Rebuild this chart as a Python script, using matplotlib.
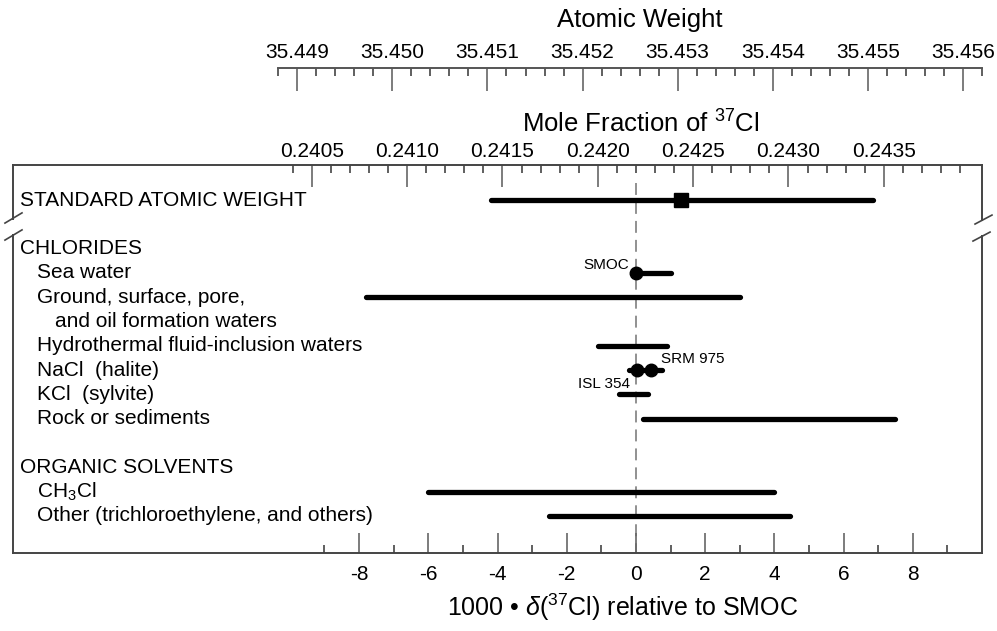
import matplotlib.pyplot as plt
import matplotlib.transforms as mtransforms
import numpy as np

plt.rcParams['font.family'] = ['Liberation Sans', 'DejaVu Sans']
plt.rcParams['mathtext.fontset'] = 'custom'
plt.rcParams['mathtext.rm'] = 'Liberation Sans'
plt.rcParams['mathtext.it'] = 'Liberation Sans:italic'

# row labels (row index, indent level)
row_labels = ['STANDARD ATOMIC WEIGHT', 'CHLORIDES', 'Sea water', 'Ground, surface, pore,',
              'and oil formation waters', 'Hydrothermal fluid-inclusion waters', 'NaCl  (halite)',
              'KCl  (sylvite)', 'Rock or sediments', 'ORGANIC SOLVENTS', 'CH$_3$Cl',
              'Other (trichloroethylene, and others)']
label_rows = [0, 2, 3, 4, 5, 6, 7, 8, 9, 11, 12, 13]
label_indent = [0, 0, 1, 1, 2, 1, 1, 1, 1, 0, 1, 1]

# ranges in 1000*delta(37Cl) relative to SMOC
bar_rows = [0, 3, 4, 6, 7, 8, 9, 12, 13]
bar_lo = [-4.2, 0.0, -7.8, -1.1, -0.2, -0.5, 0.2, -6.0, -2.5]
bar_hi = [6.85, 1.0, 3.0, 0.9, 0.75, 0.35, 7.5, 4.0, 4.45]

# reference materials
std_weight_delta = 1.3
ref_names = ['SMOC', 'ISL 354', 'SRM 975']
ref_delta = [0.0, 0.02, 0.43]
ref_rows = [3, 7, 7]

delta_ticks = [-8, -6, -4, -2, 0, 2, 4, 6, 8]
delta_minor = [-9, -7, -5, -3, -1, 1, 3, 5, 7, 9]
mf_ticks = [0.2405, 0.2410, 0.2415, 0.2420, 0.2425, 0.2430, 0.2435]
aw_ticks = [35.449, 35.450, 35.451, 35.452, 35.453, 35.454, 35.455, 35.456]

MF0 = 0.24220
MF_PER_DELTA = 0.0001815
M35 = 34.96885
M37 = 36.96590


def d2mf(d):
    return MF0 + MF_PER_DELTA * np.asarray(d)


def mf2d(x):
    return (np.asarray(x) - MF0) / MF_PER_DELTA


def d2aw(d):
    return M35 + (M37 - M35) * d2mf(d)


W, H = 997, 631
fig = plt.figure(figsize=(W / 100, H / 100), dpi=100)
L, R, T, B = 13, 982, 165, 553
ax = fig.add_axes([L / W, 1 - B / H, (R - L) / W, (B - T) / H])
XMIN, XMAX = -18.0, 10.0
row0_px, row_h = 200, 24.3
ax.set_xlim(XMIN, XMAX)
ax.set_ylim((B - row0_px) / row_h, (T - row0_px) / row_h)

frame_c = '#444444'
for s in ['left', 'right']:
    ax.spines[s].set_visible(False)
for s in ['top', 'bottom']:
    ax.spines[s].set_color(frame_c)
    ax.spines[s].set_linewidth(1.4)
ax.set_yticks([])

# bottom delta axis
ax.set_xticks(delta_ticks)
ax.set_xticks(delta_minor, minor=True)
ax.set_xticklabels([str(t) for t in delta_ticks])
ax.tick_params(axis='x', which='major', direction='in', length=14.5, width=1.2,
               color='#666666', labelsize=15, pad=9)
ax.tick_params(axis='x', which='minor', direction='in', length=6, width=1.2, color='#444444')

# top mole-fraction axis
sec = ax.secondary_xaxis('top', functions=(d2mf, mf2d))
sec.set_xticks(mf_ticks)
sec.set_xticklabels(['%.4f' % t for t in mf_ticks])
sec.set_xticks(np.round(np.arange(0.2404, 0.24395, 0.0001), 4), minor=True)
sec.tick_params(which='major', direction='in', length=16, width=1.2, color='#666666',
                labelsize=15, pad=3)
sec.tick_params(which='minor', direction='in', length=6, width=1.2, color='#444444')
sec.spines['top'].set_visible(False)

# atomic weight axis
ax_aw = fig.add_axes([L / W, 1 - 100 / H, (R - L) / W, 32 / H])
ax_aw.set_xlim(d2aw(XMIN), d2aw(XMAX))
ax_aw.patch.set_visible(False)
for s in ['left', 'right', 'bottom']:
    ax_aw.spines[s].set_visible(False)
ax_aw.spines['top'].set_bounds(35.4488, 35.4562)
ax_aw.spines['top'].set_color('#555555')
ax_aw.spines['top'].set_linewidth(1.4)
ax_aw.set_yticks([])
ax_aw.xaxis.set_ticks_position('top')
ax_aw.xaxis.set_label_position('top')
ax_aw.set_xticks(aw_ticks)
ax_aw.set_xticklabels(['%.3f' % t for t in aw_ticks])
ax_aw.set_xticks(np.round(np.arange(35.4488, 35.45625, 0.0002), 4), minor=True)
ax_aw.tick_params(which='major', direction='in', length=16.5, width=1.2, color='#666666',
                  labelsize=15, pad=4)
ax_aw.tick_params(which='minor', direction='in', length=6, width=1.2, color='#444444')

# frame sides with break marks
bt = mtransforms.blended_transform_factory(ax.transAxes, ax.transData)
ytop, ybot = ax.get_ylim()[1], ax.get_ylim()[0]
ax.plot([0, 0], [ytop, 0.78], color=frame_c, lw=1.4, transform=bt, clip_on=False)
ax.plot([0, 0], [1.44, ybot], color=frame_c, lw=1.4, transform=bt, clip_on=False)
ax.plot([-0.0083, 0.0093], [0.95, 0.53], color=frame_c, lw=1.2, transform=bt, clip_on=False)
ax.plot([-0.0083, 0.0093], [1.65, 1.23], color=frame_c, lw=1.2, transform=bt, clip_on=False)
ax.plot([1, 1], [ytop, 0.82], color=frame_c, lw=1.4, transform=bt, clip_on=False)
ax.plot([1, 1], [1.48, ybot], color=frame_c, lw=1.4, transform=bt, clip_on=False)
ax.plot([0.9928, 1.0103], [0.99, 0.62], color=frame_c, lw=1.2, transform=bt, clip_on=False)
ax.plot([0.9907, 1.0083], [1.69, 1.32], color=frame_c, lw=1.2, transform=bt, clip_on=False)

# SMOC reference dashed line
ax.plot([0, 0], [-0.7, ybot], color='#888888', lw=1.3, dashes=(6.6, 3.9), zorder=1)

# ranges
for r, lo, hi in zip(bar_rows, bar_lo, bar_hi):
    ax.plot([lo, hi], [r, r], color='black', lw=3.8, solid_capstyle='round', zorder=3)

ax.plot([std_weight_delta], [0], marker='s', ms=10.5, color='black', zorder=4)
ax.plot(ref_delta, ref_rows, 'o', ms=9, color='black', zorder=4)
ax.text(-0.2, 2.67, ref_names[0], ha='right', va='center', fontsize=11)
ax.text(-0.17, 7.57, ref_names[1], ha='right', va='center', fontsize=11)
ax.text(0.72, 6.54, ref_names[2], ha='left', va='center', fontsize=11)

# row labels
indent_px = [20, 37, 55]
for txt, r, ind in zip(row_labels, label_rows, label_indent):
    ax.text((indent_px[ind] - L) / (R - L), r, txt, transform=bt, ha='left', va='center',
            fontsize=15)

# titles
fig.text(640 / W, 1 - 20 / H, 'Atomic Weight', ha='center', va='center', fontsize=18.5)
fig.text(641 / W, 1 - 124 / H, 'Mole Fraction of $^{37}$Cl', ha='center', va='center',
         fontsize=18.5)
fig.text(623 / W, 1 - 607 / H,
         '1000 \u2022 $\\mathit{\\delta}$($^{37}$Cl) relative to SMOC',
         ha='center', va='center', fontsize=18)

fig.savefig('out.png', dpi=100)
